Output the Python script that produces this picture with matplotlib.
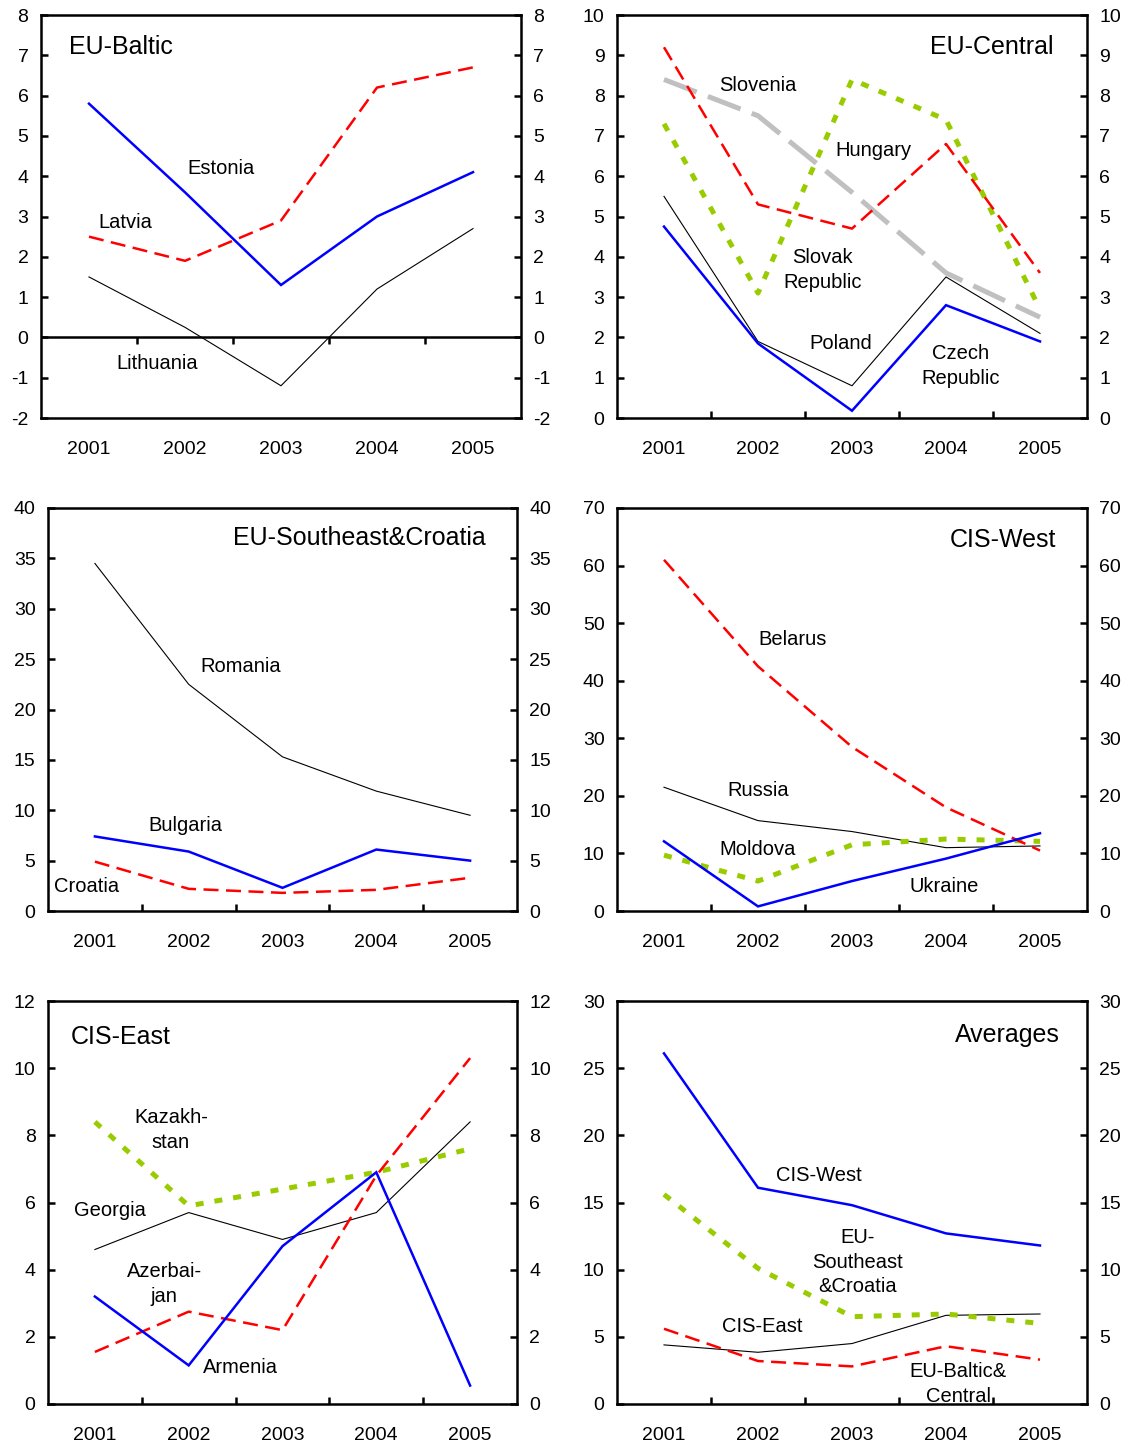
import matplotlib
matplotlib.use("Agg")
import matplotlib.pyplot as plt

plt.rcParams['font.family'] = ['Liberation Sans', 'DejaVu Sans']
plt.rcParams['axes.unicode_minus'] = False

YEARS = ['2001', '2002', '2003', '2004', '2005']

# EU-Baltic
estonia = [5.8, 3.6, 1.3, 3.0, 4.1]
latvia = [2.5, 1.9, 2.9, 6.2, 6.7]
lithuania = [1.5, 0.25, -1.2, 1.2, 2.7]

# EU-Central
hungary = [9.2, 5.3, 4.7, 6.8, 3.6]
slovenia = [8.4, 7.5, 5.6, 3.6, 2.5]
slovakia = [7.3, 3.1, 8.4, 7.4, 2.7]
poland = [5.5, 1.9, 0.8, 3.5, 2.1]
czech = [4.75, 1.85, 0.18, 2.8, 1.9]

# EU-Southeast & Croatia
romania = [34.5, 22.5, 15.3, 11.9, 9.5]
bulgaria = [7.4, 5.9, 2.3, 6.1, 5.0]
croatia = [4.9, 2.2, 1.8, 2.1, 3.3]

# CIS-West
belarus = [61.0, 42.5, 28.5, 18.0, 10.5]
russia = [21.5, 15.7, 13.8, 11.0, 11.3]
ukraine = [12.1, 0.8, 5.2, 9.1, 13.5]
moldova = [9.7, 5.2, 11.5, 12.5, 12.1]

# CIS-East
kazakhstan = [8.4, 5.9, 6.4, 6.9, 7.6]
georgia = [4.6, 5.7, 4.9, 5.7, 8.4]
armenia = [3.2, 1.15, 4.7, 6.9, 0.55]
azerbaijan = [1.55, 2.75, 2.2, 6.8, 10.3]

# Averages
avg_cis_west = [26.1, 16.1, 14.8, 12.7, 11.8]
avg_eu_se = [15.6, 10.1, 6.5, 6.7, 6.0]
avg_cis_east = [4.4, 3.85, 4.5, 6.6, 6.7]
avg_eu_bc = [5.6, 3.2, 2.8, 4.3, 3.3]

# line styles
BLUE = dict(color='#0000ff', lw=1.8, solid_joinstyle='miter')
RED = dict(color='#ff0000', lw=1.8, dashes=(6, 3))
BLACK = dict(color='black', lw=0.8)
GREEN = dict(color='#99cc00', lw=3.6, dashes=(1.6, 2.2))
GREY = dict(color='#c0c0c0', lw=3.6, dashes=(7, 2.4))
LS = 1.35  # line spacing of two-line labels

W, H = 1134, 1446
fig = plt.figure(figsize=(W / 100, H / 100), dpi=100)


def make_ax(left, right, top, bottom, ylim, step, zero_axis=False):
    ax = fig.add_axes([left / W, 1 - bottom / H, (right - left) / W, (bottom - top) / H])
    ax.set_xlim(0.5, 5.5)
    ax.set_ylim(*ylim)
    ax.set_yticks(range(ylim[0], ylim[1] + 1, step))
    ax.set_xticks(range(1, 6))
    ax.set_xticklabels(YEARS)
    ax.set_xticks([1.5, 2.5, 3.5, 4.5], minor=True)
    for s in ax.spines.values():
        s.set_linewidth(1.8)
    ax.tick_params(axis='y', which='major', direction='in', length=5, width=1.8,
                   labelsize=14, pad=9, left=True, right=True, labelright=True)
    ax.tick_params(axis='x', which='major', length=0, labelsize=14, pad=16.5)
    if zero_axis:
        ax.tick_params(axis='x', which='minor', length=0)
        ax.axhline(0, color='black', lw=1.8, zorder=1)
        ax.plot([1.5, 2.5, 3.5, 4.5], [0] * 4, ls='none', marker=3, ms=5,
                mew=1.8, color='black', zorder=1)
    else:
        ax.tick_params(axis='x', which='minor', direction='in', length=5, width=1.8)
    return ax


x = list(range(1, 6))

# EU-Baltic
ax = make_ax(41, 521, 15, 418, (-2, 8), 1, zero_axis=True)
ax.plot(x, lithuania, **BLACK)
ax.plot(x, latvia, **RED)
ax.plot(x, estonia, **BLUE)
ax.text(0.79, 7.2, 'EU-Baltic', fontsize=18, ha='left', va='center')
ax.text(2.38, 4.2, 'Estonia', fontsize=14.5, ha='center', va='center')
ax.text(1.38, 2.86, 'Latvia', fontsize=14.5, ha='center', va='center')
ax.text(1.71, -0.66, 'Lithuania', fontsize=14.5, ha='center', va='center')

# EU-Central
ax = make_ax(617, 1087, 15, 418, (0, 10), 1)
ax.plot(x, slovenia, **GREY)
ax.plot(x, slovakia, **GREEN)
ax.plot(x, hungary, **RED)
ax.plot(x, poland, **BLACK)
ax.plot(x, czech, **BLUE)
ax.text(5.14, 9.2, 'EU-Central', fontsize=18, ha='right', va='center')
ax.text(2.0, 8.26, 'Slovenia', fontsize=14.5, ha='center', va='center')
ax.text(3.23, 6.65, 'Hungary', fontsize=14.5, ha='center', va='center')
ax.text(2.69, 3.67, 'Slovak\nRepublic', fontsize=14.5, ha='center', va='center',
        linespacing=LS)
ax.text(2.88, 1.84, 'Poland', fontsize=14.5, ha='center', va='center')
ax.text(4.16, 1.29, 'Czech\nRepublic', fontsize=14.5, ha='center', va='center',
        linespacing=LS)

# EU-Southeast & Croatia
ax = make_ax(48, 517, 508, 911, (0, 40), 5)
ax.plot(x, romania, **BLACK)
ax.plot(x, croatia, **RED)
ax.plot(x, bulgaria, **BLUE)
ax.text(5.17, 37.0, 'EU-Southeast&Croatia', fontsize=18, ha='right', va='center')
ax.text(2.55, 24.3, 'Romania', fontsize=14.5, ha='center', va='center')
ax.text(1.96, 8.45, 'Bulgaria', fontsize=14.5, ha='center', va='center')
ax.text(0.91, 2.4, 'Croatia', fontsize=14.5, ha='center', va='center')

# CIS-West
ax = make_ax(617, 1087, 508, 911, (0, 70), 10)
ax.plot(x, russia, **BLACK)
ax.plot(x, moldova, **GREEN)
ax.plot(x, belarus, **RED)
ax.plot(x, ukraine, **BLUE)
ax.text(5.17, 64.4, 'CIS-West', fontsize=18, ha='right', va='center')
ax.text(2.37, 47.2, 'Belarus', fontsize=14.5, ha='center', va='center')
ax.text(2.0, 21.0, 'Russia', fontsize=14.5, ha='center', va='center')
ax.text(2.0, 10.6, 'Moldova', fontsize=14.5, ha='center', va='center')
ax.text(3.98, 4.3, 'Ukraine', fontsize=14.5, ha='center', va='center')

# CIS-East
ax = make_ax(48, 517, 1001, 1404, (0, 12), 2)
ax.plot(x, georgia, **BLACK)
ax.plot(x, kazakhstan, **GREEN)
ax.plot(x, azerbaijan, **RED)
ax.plot(x, armenia, **BLUE)
ax.text(0.74, 10.93, 'CIS-East', fontsize=18, ha='left', va='center')
ax.text(1.81, 8.16, 'Kazakh-\nstan', fontsize=14.5, ha='center', va='center',
        linespacing=LS)
ax.text(1.16, 5.75, 'Georgia', fontsize=14.5, ha='center', va='center')
ax.text(1.74, 3.57, 'Azerbai-\njan', fontsize=14.5, ha='center', va='center',
        linespacing=LS)
ax.text(2.55, 1.1, 'Armenia', fontsize=14.5, ha='center', va='center')

# Averages
ax = make_ax(617, 1087, 1001, 1404, (0, 30), 5)
ax.plot(x, avg_cis_east, **BLACK)
ax.plot(x, avg_eu_se, **GREEN)
ax.plot(x, avg_eu_bc, **RED)
ax.plot(x, avg_cis_west, **BLUE)
ax.text(5.21, 27.5, 'Averages', fontsize=18, ha='right', va='center')
ax.text(2.65, 17.04, 'CIS-West', fontsize=14.5, ha='center', va='center')
ax.text(3.06, 10.57, 'EU-\nSoutheast\n&Croatia', fontsize=14.5, ha='center',
        va='center', linespacing=LS)
ax.text(2.05, 5.8, 'CIS-East', fontsize=14.5, ha='center', va='center')
ax.text(4.13, 1.48, 'EU-Baltic&\nCentral', fontsize=14.5, ha='center', va='center',
        linespacing=LS, clip_on=False)

fig.savefig('out.png', dpi=100)
